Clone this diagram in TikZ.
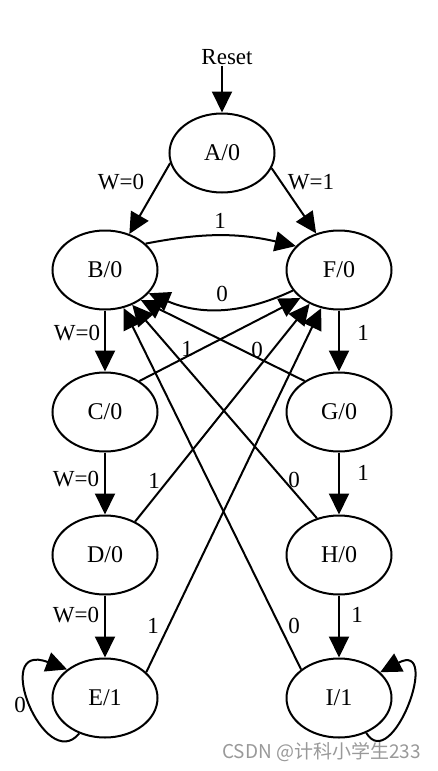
\documentclass[tikz,border=0pt]{standalone}
\usepackage{fontspec}
\setmainfont{Liberation Serif}
\newfontfamily\cjkfont{Noto Sans CJK SC}
\usetikzlibrary{shapes.geometric,arrows.meta}
\tikzset{
  state/.style={ellipse,draw,line width=2pt,minimum width=105pt,minimum height=79pt,inner sep=0pt,font=\fontsize{24}{28}\selectfont},
  tr/.style={line width=2pt,-{Triangle[length=21pt,width=20pt]}},
  lbl/.style={font=\fontsize{23}{27}\selectfont,inner sep=1pt}
}
\begin{document}
\begin{tikzpicture}[x=1pt,y=-1pt]
  \useasboundingbox (0,0) rectangle (437,771);
  \node[lbl] (reset) at (227,57) {Reset};
  \node[state] (A) at (222,153) {A/0};
  \node[state] (B) at (105,270) {B/0};
  \node[state] (F) at (339,270) {F/0};
  \node[state] (C) at (105,412) {C/0};
  \node[state] (G) at (339,412) {G/0};
  \node[state] (D) at (105,555) {D/0};
  \node[state] (H) at (339,555) {H/0};
  \node[state] (E) at (105,698) {E/1};
  \node[state] (I) at (339,698) {I/1};
  \draw[tr] (reset.south -| A.north) -- (A.north);
  \draw[tr] (A.191) -- (B.56);
  \draw[tr] (A.343) -- (F.122);
  \draw[tr] (B.33) to[bend left=12] (F.151);
  \draw[tr] (F.204) to[bend left=24] (B.-28);
  \draw[tr] (B) -- (C);
  \draw[tr] (C) -- (D);
  \draw[tr] (D) -- (E);
  \draw[tr] (F) -- (G);
  \draw[tr] (G) -- (H);
  \draw[tr] (H) -- (I);
  \draw[tr] (C.42) -- (F.216);
  \draw[tr] (D.48) -- (F.229);
  \draw[tr] (E.32) -- (F.245);
  \draw[tr] (G.138) -- (B.-40);
  \draw[tr] (H.121) -- (B.-52);
  \draw[tr] (I.143) -- (B.-64);
  \draw[tr] (E.234) .. controls (45,775) and (-10,640) .. (E.143);
  \draw[tr] (I.-52) .. controls (392,775) and (442,640) .. (I.32);
  % edge labels
  \node[lbl] (lAB) at (121,182) {W=0};
  \node[lbl] (lAF) at (311,182) {W=1};
  \node[lbl] (lBF) at (220,221) {1};
  \node[lbl] (lFB) at (222,294) {0};
  \node[lbl] (lBC) at (77,333) {W=0};
  \node[lbl] (lCD) at (76,479) {W=0};
  \node[lbl] (lDE) at (76,615) {W=0};
  \node[lbl] (lFG) at (363,333) {1};
  \node[lbl] (lGH) at (363,473) {1};
  \node[lbl] (lHI) at (357,615) {1};
  \node[lbl] (lCF) at (187,349) {1};
  \node[lbl] (lGB) at (257,350) {0};
  \node[lbl] (lDF) at (154,481) {1};
  \node[lbl] (lHB) at (294,480) {0};
  \node[lbl] (lEF) at (153,626) {1};
  \node[lbl] (lIB) at (294,626) {0};
  \node[lbl] (lEE) at (20,705) {0};
  \node[anchor=east,black!40,font=\cjkfont\fontsize{19}{22}\selectfont,inner sep=0pt] (mark) at (421,752) {CSDN @计科小学生233};
\end{tikzpicture}
\end{document}
